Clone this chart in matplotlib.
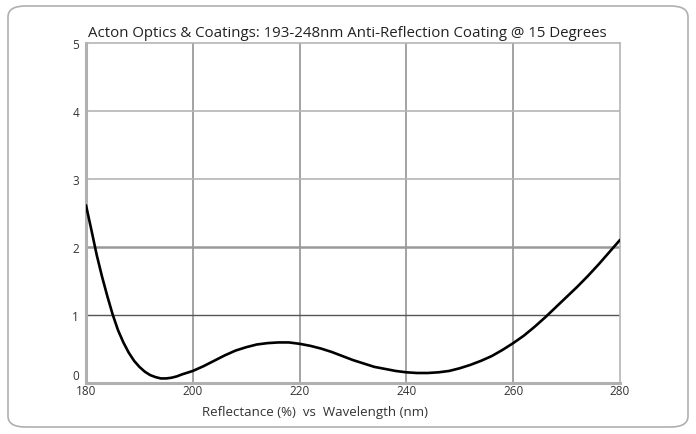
import matplotlib
matplotlib.use("Agg")
import matplotlib.pyplot as plt
from matplotlib.patches import FancyBboxPatch

wavelength = [180, 181, 182, 183, 184, 185, 186, 187, 188, 189, 190, 191, 192, 193, 194,
              195, 196, 197, 198, 200, 202, 204, 206, 208, 210, 212, 214, 216, 218, 220,
              222, 224, 226, 228, 230, 232, 234, 236, 238, 240, 242, 244, 246, 248, 250,
              252, 254, 256, 258, 260, 262, 264, 266, 268, 270, 272, 274, 276, 278, 280]
reflectance = [2.61, 2.25, 1.88, 1.56, 1.27, 1.00, 0.77, 0.59, 0.44, 0.32, 0.23, 0.16, 0.11, 0.08, 0.06,
               0.06, 0.07, 0.09, 0.12, 0.17, 0.24, 0.32, 0.40, 0.47, 0.52, 0.56, 0.58, 0.59, 0.59, 0.57,
               0.54, 0.50, 0.45, 0.39, 0.33, 0.28, 0.23, 0.20, 0.17, 0.15, 0.14, 0.14, 0.15, 0.17, 0.21,
               0.26, 0.32, 0.39, 0.48, 0.58, 0.69, 0.82, 0.96, 1.11, 1.26, 1.41, 1.57, 1.74, 1.92, 2.10]
x_ticks = [180, 200, 220, 240, 260, 280]
y_ticks = [0, 1, 2, 3, 4, 5]
title = "Acton Optics & Coatings: 193-248nm Anti-Reflection Coating @ 15 Degrees"
xlabel = "Reflectance (%)  vs  Wavelength (nm)"

plt.rcParams['font.family'] = ['Open Sans', 'DejaVu Sans']

fig = plt.figure(figsize=(6.96, 4.35), dpi=100)
fig.patch.set_facecolor('white')

# outer rounded frame
frame = FancyBboxPatch((8/696, 7/435), 680/696, 421/435,
                       boxstyle="round,pad=0,rounding_size=0.025",
                       transform=fig.transFigure, facecolor='none',
                       edgecolor='#b0b0b0', linewidth=1.2, zorder=0)
fig.patches.append(frame)

ax = fig.add_axes([86/696, 1 - 383.5/435, (620 - 86)/696, (383.5 - 44)/435])
ax.set_xlim(180, 280)
ax.set_ylim(0, 5)
ax.set_facecolor('none')

# grid lines
for xv in x_ticks[1:-1]:
    ax.axvline(xv, color='#8a8a8a', lw=1.1, zorder=1)
grid_styles = {1: ('#555555', 1.0), 2: ('#999999', 1.8), 3: ('#b5b5b5', 1.2), 4: ('#b5b5b5', 1.2)}
for yv in y_ticks[1:-1]:
    c, w = grid_styles[yv]
    ax.axhline(yv, color=c, lw=w, zorder=1)

ax.plot(wavelength, reflectance, color='black', lw=1.9, zorder=3, solid_capstyle='round')

for side in ['top', 'right']:
    ax.spines[side].set_color('#b5b5b5')
    ax.spines[side].set_linewidth(1.2)
for side in ['left', 'bottom']:
    ax.spines[side].set_color('#b0b0b0')
    ax.spines[side].set_linewidth(2.2)

ax.set_xticks(x_ticks)
ax.set_yticks(y_ticks)
ax.tick_params(axis='both', length=0, labelsize=8.5, labelcolor='#333333')
ax.tick_params(axis='x', pad=1)
ax.tick_params(axis='y', pad=5)
ax.get_yticklabels()[0].set_verticalalignment('bottom')

ax.set_xlabel(xlabel, fontsize=9.5, color='#333333', labelpad=4)
ax.xaxis.set_label_coords((315 - 86) / (620 - 86), -0.065)
ax.xaxis.label.set_verticalalignment('top')
ax.set_title(title, fontsize=10.8, color='#222222', loc='left', pad=5, x=0.003)

fig.savefig('out.png', dpi=100, facecolor='white')
